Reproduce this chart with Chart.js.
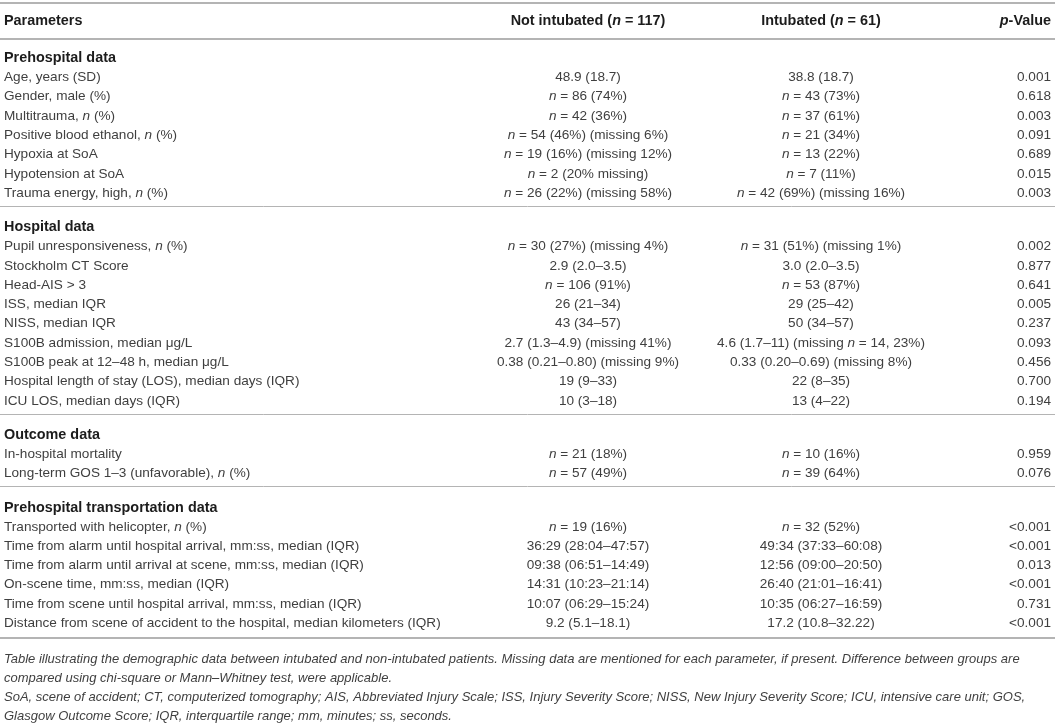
<!DOCTYPE html>
<html><head><meta charset="utf-8">
<script src="https://cdn.jsdelivr.net/npm/chart.js@4.4.1/dist/chart.umd.min.js"></script>
<style>html,body{margin:0;padding:0;background:#fff}#wrap{width:1055px;height:723px;position:relative}</style>
</head><body><div id="wrap"><canvas id="c"></canvas></div>
<script>
// ---------------- DATA ----------------
const columnHeaders = ["Parameters", "Not intubated (n = 117)", "Intubated (n = 61)", "p-Value"];
const sectionTitles = ["Prehospital data", "Hospital data", "Outcome data", "Prehospital transportation data"];
const rowSection = [0,0,0,0,0,0,0, 1,1,1,1,1,1,1,1,1, 2,2, 3,3,3,3,3,3];
const parameters = [
  "Age, years (SD)", "Gender, male (%)", "Multitrauma, n (%)", "Positive blood ethanol, n (%)",
  "Hypoxia at SoA", "Hypotension at SoA", "Trauma energy, high, n (%)",
  "Pupil unresponsiveness, n (%)", "Stockholm CT Score", "Head-AIS > 3", "ISS, median IQR",
  "NISS, median IQR", "S100B admission, median μg/L", "S100B peak at 12–48 h, median μg/L",
  "Hospital length of stay (LOS), median days (IQR)", "ICU LOS, median days (IQR)",
  "In-hospital mortality", "Long-term GOS 1–3 (unfavorable), n (%)",
  "Transported with helicopter, n (%)", "Time from alarm until hospital arrival, mm:ss, median (IQR)",
  "Time from alarm until arrival at scene, mm:ss, median (IQR)", "On-scene time, mm:ss, median (IQR)",
  "Time from scene until hospital arrival, mm:ss, median (IQR)",
  "Distance from scene of accident to the hospital, median kilometers (IQR)"
];
const notIntubated = [
  "48.9 (18.7)", "n = 86 (74%)", "n = 42 (36%)", "n = 54 (46%) (missing 6%)",
  "n = 19 (16%) (missing 12%)", "n = 2 (20% missing)", "n = 26 (22%) (missing 58%)",
  "n = 30 (27%) (missing 4%)", "2.9 (2.0–3.5)", "n = 106 (91%)", "26 (21–34)",
  "43 (34–57)", "2.7 (1.3–4.9) (missing 41%)", "0.38 (0.21–0.80) (missing 9%)",
  "19 (9–33)", "10 (3–18)",
  "n = 21 (18%)", "n = 57 (49%)",
  "n = 19 (16%)", "36:29 (28:04–47:57)", "09:38 (06:51–14:49)", "14:31 (10:23–21:14)",
  "10:07 (06:29–15:24)", "9.2 (5.1–18.1)"
];
const intubated = [
  "38.8 (18.7)", "n = 43 (73%)", "n = 37 (61%)", "n = 21 (34%)",
  "n = 13 (22%)", "n = 7 (11%)", "n = 42 (69%) (missing 16%)",
  "n = 31 (51%) (missing 1%)", "3.0 (2.0–3.5)", "n = 53 (87%)", "29 (25–42)",
  "50 (34–57)", "4.6 (1.7–11) (missing n = 14, 23%)", "0.33 (0.20–0.69) (missing 8%)",
  "22 (8–35)", "13 (4–22)",
  "n = 10 (16%)", "n = 39 (64%)",
  "n = 32 (52%)", "49:34 (37:33–60:08)", "12:56 (09:00–20:50)", "26:40 (21:01–16:41)",
  "10:35 (06:27–16:59)", "17.2 (10.8–32.22)"
];
const pValues = [
  "0.001", "0.618", "0.003", "0.091", "0.689", "0.015", "0.003",
  "0.002", "0.877", "0.641", "0.005", "0.237", "0.093", "0.456", "0.700", "0.194",
  "0.959", "0.076",
  "<0.001", "<0.001", "0.013", "<0.001", "0.731", "<0.001"
];
const captionLines = [
  "Table illustrating the demographic data between intubated and non-intubated patients. Missing data are mentioned for each parameter, if present. Difference between groups are",
  "compared using chi-square or Mann–Whitney test, were applicable.",
  "SoA, scene of accident; CT, computerized tomography; AIS, Abbreviated Injury Scale; ISS, Injury Severity Score; NISS, New Injury Severity Score; ICU, intensive care unit; GOS,",
  "Glasgow Outcome Score; IQR, interquartile range; mm, minutes; ss, seconds."
];

// ---------------- LAYOUT / STYLE ----------------
const W = 1055, H = 723;
const PITCH = 19.3;                 // px per row unit on the y scale
const u = px => px / PITCH;
const colAnchor = [4/W, 588/W, 821/W, 1051/W];  // x scale is 0..1
const colAlign = ["left", "center", "center", "right"];
const FONT = "'Liberation Sans', Arial, sans-serif";
const BODY_SIZE = 13.6, HEAD_SIZE = 14.4, CAP_SIZE = 13;
const BODY_COLOR = "#3f3f3f", HEAD_COLOR = "#1c1c1c", CAP_COLOR = "#3f3f3f", RULE_COLOR = "#b4b4b4";

// row positions in row units
const headerY = u(20);
const rules = [{y: u(2.5), w: 2}, {y: u(38.5), w: 2}];
const sectionY = [], rowY = [];
let yy = u(57), captionY0 = 0;
sectionTitles.forEach((t, s) => {
  sectionY[s] = yy; yy += 1;
  rowSection.forEach((sec, i) => { if (sec === s) { rowY[i] = yy; yy += 1; } });
  const last = yy - 1;
  if (s < sectionTitles.length - 1) { rules.push({y: last + u(14), w: 1}); yy = last + u(34); }
  else { rules.push({y: last + u(15.5), w: 2}); captionY0 = last + u(36); }
});
const captionStep = u(19);

// datasets: each point carries its text, drawn at the pixel the scales give it
const mk = (x, y, text, style, align) => ({x, y, text, style, align});
const headerData = columnHeaders.map((t, c) => mk(colAnchor[c], headerY, t, "head", colAlign[c]));
const sectionData = sectionTitles.map((t, s) => mk(colAnchor[0], sectionY[s], t, "head", "left"));
const paramData = parameters.map((t, i) => mk(colAnchor[0], rowY[i], t, "body", "left"));
const notData = notIntubated.map((t, i) => mk(colAnchor[1], rowY[i], t, "body", "center"));
const intData = intubated.map((t, i) => mk(colAnchor[2], rowY[i], t, "body", "center"));
const pData = pValues.map((t, i) => mk(colAnchor[3], rowY[i], t, "body", "right"));
const capData = captionLines.map((t, i) => mk(colAnchor[0], captionY0 + i * captionStep, t, "cap", "left"));

function fonts(style) {
  if (style === "head") return {s: HEAD_SIZE, n: `bold ${HEAD_SIZE}px ${FONT}`, i: `italic bold ${HEAD_SIZE}px ${FONT}`, c: HEAD_COLOR};
  if (style === "cap") return {s: CAP_SIZE, n: `italic ${CAP_SIZE}px ${FONT}`, i: `italic ${CAP_SIZE}px ${FONT}`, c: CAP_COLOR};
  return {s: BODY_SIZE, n: `${BODY_SIZE}px ${FONT}`, i: `italic ${BODY_SIZE}px ${FONT}`, c: BODY_COLOR};
}
function drawRich(ctx, text, x, y, align, style) {
  const f = fonts(style);
  const parts = text.split(/(?<=^|[\s(])([np])(?=[\s\-,)=]|$)/);
  const segs = parts.map((p, k) => ({t: p, font: k % 2 ? f.i : f.n})).filter(s => s.t.length);
  let total = 0;
  segs.forEach(s => { ctx.font = s.font; s.w = ctx.measureText(s.t).width; total += s.w; });
  let cx = align === "left" ? x : align === "right" ? x - total : x - total / 2;
  const base = Math.round(y + f.s * 0.36);
  ctx.fillStyle = f.c; ctx.textBaseline = "alphabetic"; ctx.textAlign = "left";
  segs.forEach(s => { ctx.font = s.font; ctx.fillText(s.t, cx, base); cx += s.w; });
}

const tablePlugin = {
  id: "tableText",
  beforeDatasetsDraw(chart) {
    const ctx = chart.ctx, xs = chart.scales.x, ys = chart.scales.y;
    ctx.save();
    ctx.strokeStyle = RULE_COLOR;
    rules.forEach(r => {
      const py = Math.round(ys.getPixelForValue(r.y)) + (r.w % 2 ? 0.5 : 0);
      ctx.lineWidth = r.w;
      ctx.beginPath(); ctx.moveTo(xs.getPixelForValue(0), py); ctx.lineTo(xs.getPixelForValue(1), py); ctx.stroke();
    });
    ctx.restore();
  },
  afterDatasetsDraw(chart) {
    const ctx = chart.ctx;
    ctx.save();
    chart.data.datasets.forEach((ds, di) => {
      chart.getDatasetMeta(di).data.forEach((el, i) => {
        const d = ds.data[i];
        drawRich(ctx, d.text, el.x, el.y, d.align, d.style);
      });
    });
    ctx.restore();
  }
};

const canvas = document.getElementById("c");
canvas.width = W; canvas.height = H;
canvas.style.width = W + "px"; canvas.style.height = H + "px";
new Chart(canvas, {
  type: "scatter",
  data: {datasets: [
    {label: "header", data: headerData},
    {label: "sections", data: sectionData},
    {label: "Parameters", data: paramData},
    {label: "Not intubated", data: notData},
    {label: "Intubated", data: intData},
    {label: "p-Value", data: pData},
    {label: "caption", data: capData}
  ]},
  options: {
    responsive: false, animation: false, devicePixelRatio: 1,
    layout: {padding: 0},
    elements: {point: {radius: 0, hoverRadius: 0}},
    plugins: {legend: {display: false}, tooltip: {enabled: false}},
    events: [],
    scales: {
      x: {type: "linear", min: 0, max: 1, display: false},
      y: {type: "linear", min: 0, max: u(H), reverse: true, display: false}
    }
  },
  plugins: [tablePlugin]
});
</script></body></html>
